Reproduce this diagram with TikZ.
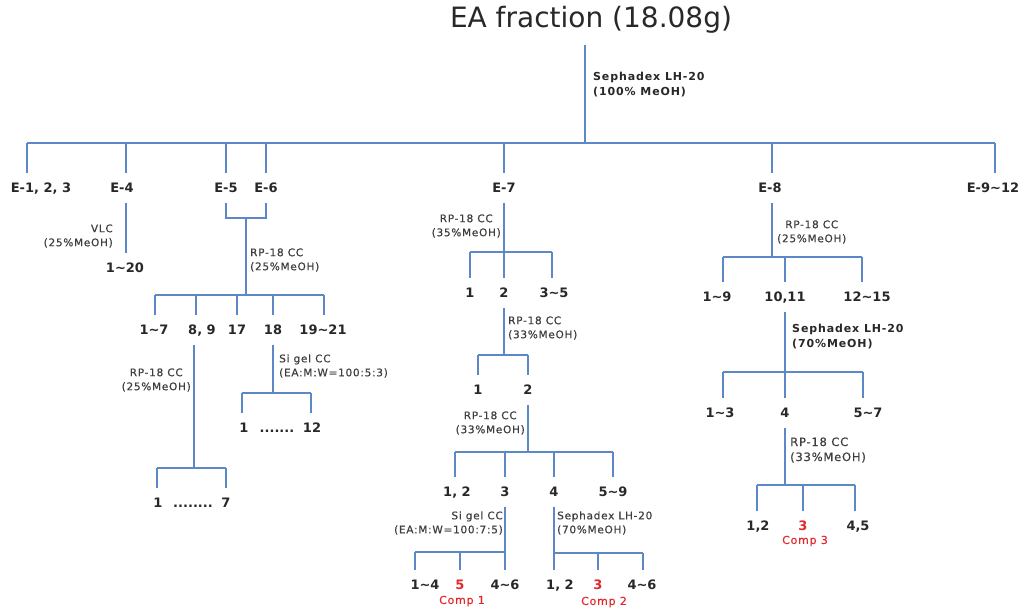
\documentclass[tikz,border=0pt]{standalone}
\usepackage{fontspec}
\setmainfont{DejaVu Sans}
\newfontfamily\condfont{DejaVu Sans}[LetterSpace=7, FakeBold=0.4]
\newfontfamily\condbold{DejaVu Sans Bold}[LetterSpace=8]
\definecolor{wireblue}{RGB}{92,136,200}
\definecolor{labgray}{RGB}{40,40,40}
\definecolor{compred}{RGB}{225,40,45}
\newcommand{\tld}{\textasciitilde}

\begin{document}
\begin{tikzpicture}[x=1pt, y=-1pt,
	wire/.style={draw=wireblue, line width=1.7pt},
	lab/.style={font=\fontsize{13}{13}\selectfont\bfseries, text=labgray, inner xsep=0pt, inner ysep=10pt, text height=9pt, text depth=0pt},
	hit/.style={lab, text=compred},
	cond/.style={font=\condfont\fontsize{10.5}{14}\selectfont, text=labgray!90, inner sep=0pt},
	boldcond/.style={font=\condbold\fontsize{11}{15}\selectfont, text=labgray, inner sep=0pt, align=left, anchor=west},
	comp/.style={font=\condfont\fontsize{11}{11}\selectfont, text=compred, inner sep=0pt}]
	\path[fill=white] (0,0) rectangle (1024,610);
	% Title and first column:
	\node[font=\fontsize{28}{28}\selectfont, text=labgray] (ea) at (591,20){EA fraction (18.08g)};
	\coordinate (top) at (585,45);
	\coordinate (bar) at (585,143);
	\draw[wire] (top) -- (bar);
	\node[boldcond] (cea) at (593,85){Sephadex LH-20\\(100\% MeOH)};
	\coordinate (d1) at (27,143);
	\coordinate (d4) at (126,143);
	\coordinate (d5) at (226,143);
	\coordinate (d6) at (266,143);
	\coordinate (d7) at (504,143);
	\coordinate (d8) at (772,143);
	\coordinate (d9) at (995,143);
	\draw[wire] (d1) -- (d9);
	\node[lab] (e1) at (41,188){E-1, 2, 3};
	\node[lab] (e4) at (122,188){E-4};
	\node[lab] (e5) at (226,188){E-5};
	\node[lab] (e6) at (266,188){E-6};
	\node[lab] (e7) at (504,188){E-7};
	\node[lab] (e8) at (770,188){E-8};
	\node[lab] (e9) at (993,188){E-9\tld12};
	\foreach \d/\e in {d1/e1, d4/e4, d5/e5, d6/e6, d7/e7, d8/e8, d9/e9}
		\draw[wire] (\d) -- (\d |- \e.north);

	% E-4:
	\node[lab] (e4a) at (125,268){1\tld20};
	\draw[wire] (e4.south -| d4) -- (e4a.north -| d4);
	\node[cond, align=right, anchor=east] (c4) at (113,236){VLC\\(25\%MeOH)};

	% E-5, E-6:
	\coordinate (j56) at (246,218);
	\coordinate (k56) at (246,295);
	\draw[wire] (e5.south) |- (j56) -| (e6.south);
	\draw[wire] (j56) -- (k56);
	\node[cond, align=left, anchor=west] (c56) at (250,260){RP-18 CC\\(25\%MeOH)};
	\coordinate (k1) at (155,295);
	\coordinate (k2) at (196,295);
	\coordinate (k3) at (237,295);
	\coordinate (k4) at (273,295);
	\coordinate (k5) at (324,295);
	\draw[wire] (k1) -- (k5);
	\node[lab] (f1) at (154,330){1\tld7};
	\node[lab] (f2) at (202,330){8, 9};
	\node[lab] (f3) at (237,330){17};
	\node[lab] (f4) at (273,330){18};
	\node[lab] (f5) at (323,330){19\tld21};
	\foreach \i in {1,...,5}
		\draw[wire] (k\i) -- (k\i |- f\i.north);

	% 8, 9:
	\coordinate (j89) at (194,468);
	\coordinate (g1) at (157,468);
	\coordinate (g2) at (226,468);
	\draw[wire] (j89 |- f2.south) -- (j89);
	\draw[wire] (g1) -- (g2);
	\node[cond, align=center, anchor=east] (c89) at (191,380){RP-18 CC\\(25\%MeOH)};
	\node[lab] (g1l) at (158,503){1};
	\node[lab] (gdots) at (193,503){........};
	\node[lab] (g2l) at (226,503){7};
	\draw[wire] (g1) -- (g1 |- g1l.north);
	\draw[wire] (g2) -- (g2 |- g2l.north);

	% 18:
	\coordinate (j18) at (273,393);
	\coordinate (h1) at (242,393);
	\coordinate (h2) at (311,393);
	\draw[wire] (f4.south) -- (j18);
	\draw[wire] (h1) -- (h2);
	\node[cond, align=left, anchor=west] (c18) at (279,366){Si gel CC\\(EA:M:W=100:5:3)};
	\node[lab] (h1l) at (244,428){1};
	\node[lab] (hdots) at (277,428){.......};
	\node[lab] (h2l) at (312,428){12};
	\draw[wire] (h1) -- (h1 |- h1l.north);
	\draw[wire] (h2) -- (h2 |- h2l.north);

	% E-7:
	\node[lab] (i1) at (470,293){1};
	\node[lab] (i2) at (504,293){2};
	\node[lab] (i3) at (554,293){3\tld5};
	\coordinate (m1) at (470,252);
	\coordinate (m3) at (552,252);
	\draw[wire] (e7.south) -- (i2.north);
	\draw[wire] (m1) -- (m3);
	\draw[wire] (m1) -- (m1 |- i1.north);
	\draw[wire] (m3) -- (m3 |- i3.north);
	\node[cond, align=center, anchor=east] (c7) at (501,226){RP-18 CC\\(35\%MeOH)};

	\coordinate (n0) at (504,355);
	\coordinate (n1) at (478,355);
	\coordinate (n2) at (528,355);
	\draw[wire] (i2.south) -- (n0);
	\draw[wire] (n1) -- (n2);
	\node[cond, align=left, anchor=west] (c72) at (508,328){RP-18 CC\\(33\%MeOH)};
	\node[lab] (n1l) at (478,390){1};
	\node[lab] (n2l) at (528,390){2};
	\draw[wire] (n1) -- (n1l.north);
	\draw[wire] (n2) -- (n2l.north);

	\coordinate (o0) at (528,452);
	\coordinate (o1) at (455,452);
	\coordinate (o2) at (505,452);
	\coordinate (o3) at (554,452);
	\coordinate (o4) at (613,452);
	\draw[wire] (n2l.south) -- (o0);
	\draw[wire] (o1) -- (o4);
	\node[cond, align=center, anchor=east] (c73) at (525,423){RP-18 CC\\(33\%MeOH)};
	\node[lab] (o1l) at (457,492){1, 2};
	\node[lab] (o2l) at (505,492){3};
	\node[lab] (o3l) at (554,492){4};
	\node[lab] (o4l) at (613,492){5\tld9};
	\foreach \i in {1,...,4}
		\draw[wire] (o\i) -- (o\i |- o\i l.north);

	% 3 and 4 of E-7:
	\node[lab] (p1l) at (425,585){1\tld4};
	\node[hit] (p2l) at (460,585){5};
	\node[lab] (p3l) at (505,585){4\tld6};
	\node[comp] (cp1) at (462,601){Comp 1};
	\coordinate (p1) at (415,552);
	\coordinate (p2) at (460,552);
	\coordinate (p3) at (505,552);
	\draw[wire] (o2l.south) -- (p3l.north);
	\draw[wire] (p1) -- (p3);
	\draw[wire] (p1) -- (p1 |- p1l.north);
	\draw[wire] (p2) -- (p2l.north);
	\node[cond, align=right, anchor=east] (c74) at (503,523){Si gel CC\\(EA:M:W=100:7:5)};

	\node[lab] (q1l) at (560,585){1, 2};
	\node[hit] (q2l) at (598,585){3};
	\node[lab] (q3l) at (642,585){4\tld6};
	\node[comp] (cp2) at (604,602){Comp 2};
	\coordinate (q1) at (554,553);
	\coordinate (q2) at (598,553);
	\coordinate (q3) at (643,553);
	\draw[wire] (o3l.south) -- (o3l.south |- q1l.north);
	\draw[wire] (q1) -- (q3);
	\draw[wire] (q2) -- (q2l.north);
	\draw[wire] (q3) -- (q3 |- q3l.north);
	\node[cond, align=left, anchor=west] (c75) at (557,523){Sephadex LH-20\\(70\%MeOH)};

	% E-8:
	\coordinate (r0) at (772,257);
	\coordinate (r1) at (723,257);
	\coordinate (r2) at (785,257);
	\coordinate (r3) at (862,257);
	\draw[wire] (e8.south -| r0) -- (r0);
	\draw[wire] (r1) -- (r3);
	\node[cond, align=center, anchor=west] (c8) at (777,232){RP-18 CC\\(25\%MeOH)};
	\node[lab] (r1l) at (717,297){1\tld9};
	\node[lab] (r2l) at (785,297){10,11};
	\node[lab] (r3l) at (867,297){12\tld15};
	\foreach \i in {1,2,3}
		\draw[wire] (r\i) -- (r\i |- r\i l.north);

	\coordinate (s0) at (785,372);
	\coordinate (s1) at (723,372);
	\coordinate (s3) at (863,372);
	\draw[wire] (r2l.south) -- (s0);
	\draw[wire] (s1) -- (s3);
	\node[boldcond] (c82) at (792,337){Sephadex LH-20\\(70\%MeOH)};
	\node[lab] (s1l) at (720,413){1\tld3};
	\node[lab] (s2l) at (785,413){4};
	\node[lab] (s3l) at (868,413){5\tld7};
	\draw[wire] (s1) -- (s1 |- s1l.north);
	\draw[wire] (s0) -- (s2l.north);
	\draw[wire] (s3) -- (s3 |- s3l.north);

	\coordinate (u0) at (785,485);
	\coordinate (u1) at (757,485);
	\coordinate (u2) at (803,485);
	\coordinate (u3) at (855,485);
	\draw[wire] (s2l.south) -- (u0);
	\draw[wire] (u1) -- (u3);
	\node[cond, font=\condfont\fontsize{11.5}{15}\selectfont, align=left, anchor=west] (c83) at (790,450){RP-18 CC\\(33\%MeOH)};
	\node[lab] (u1l) at (758,526){1,2};
	\node[hit] (u2l) at (803,526){3};
	\node[lab] (u3l) at (858,526){4,5};
	\node[comp] (cp3) at (805,541){Comp 3};
	\draw[wire] (u1) -- (u1 |- u1l.north);
	\draw[wire] (u2) -- (u2l.north);
	\draw[wire] (u3) -- (u3 |- u3l.north);
\end{tikzpicture}
\end{document}
